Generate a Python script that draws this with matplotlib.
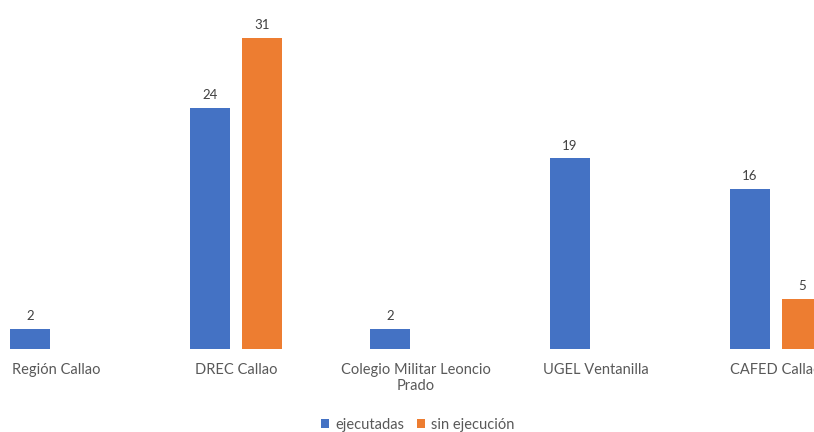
import matplotlib
matplotlib.use("Agg")
import matplotlib.pyplot as plt
import numpy as np

categories = ["Región Callao", "DREC Callao", "Colegio Militar Leoncio\nPrado", "UGEL Ventanilla", "CAFED Callao"]
ejecutadas = [2, 24, 2, 19, 16]
sin_ejecucion = [0, 31, 0, 0, 5]
series_names = ["ejecutadas", "sin ejecución"]

plt.rcParams['font.family'] = ['Lato', 'DejaVu Sans']

fig = plt.figure(figsize=(8.14, 4.32), dpi=100)
ax = fig.add_axes([0, 83/432, 1, 349/432])

x = np.arange(len(categories))
w = 0.222
off = 0.144
blue = "#4472C4"
orange = "#ED7D31"

b1 = ax.bar(x - off, ejecutadas, w, color=blue, label=series_names[0])
b2 = ax.bar(x + off, sin_ejecucion, w, color=orange, label=series_names[1])

for xi, v in zip(x, ejecutadas):
    if v:
        ax.annotate(str(v), (xi - off, v), xytext=(0, 5), textcoords="offset points",
                    ha="center", va="bottom", fontsize=9.5, color="#404040")
for xi, v in zip(x, sin_ejecucion):
    if v:
        ax.annotate(str(v), (xi + off, v), xytext=(0, 5), textcoords="offset points",
                    ha="center", va="bottom", fontsize=9.5, color="#404040")

ax.set_xlim(-56/180, (814-56)/180)
ax.set_ylim(0, 34.8)
ax.set_xticks(x)
ax.set_xticklabels(categories, fontsize=10.5, color="#595959", linespacing=1.2)
ax.tick_params(axis="x", length=0, pad=10)
ax.set_yticks([])
for s in ax.spines.values():
    s.set_visible(False)

fig.legend(handles=[b1, b2], labels=series_names, loc="center",
           bbox_to_anchor=(418/814, 1 - 425/432), ncol=2, frameon=False,
           fontsize=10.5, handlelength=0.55, handleheight=0.55, handletextpad=0.4,
           columnspacing=0.9, labelcolor="#595959")

fig.savefig("out.png", dpi=100)
